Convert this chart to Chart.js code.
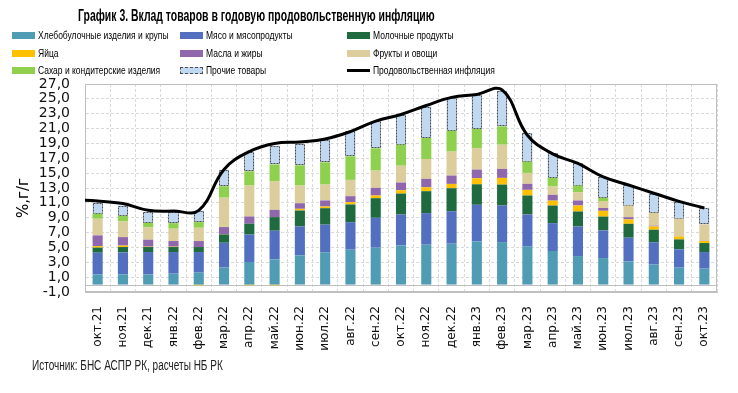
<!DOCTYPE html>
<html><head><meta charset="utf-8">
<script src="https://cdn.jsdelivr.net/npm/chart.js@4.4.0/dist/chart.umd.min.js"></script>
<style>
html,body{margin:0;padding:0;background:#fff;}
#wrap{position:relative;width:738px;height:393px;overflow:hidden;background:#fff;}
#c{position:absolute;left:0;top:0;}
.t{position:absolute;white-space:nowrap;color:#000;}
.fit{transform-origin:0 0;}
#title{left:78px;top:8px;font:bold 16px/16px "Liberation Sans",Arial,sans-serif;}
#src{left:32px;top:358px;font:14px/14px "Liberation Sans",Arial,sans-serif;color:#222;}
#ytitle{left:22.5px;top:198px;font:15px/15px "DejaVu Sans",sans-serif;transform:translate(-50%,-50%) rotate(-90deg);}
.lgt{position:absolute;white-space:nowrap;font:11px/11px "Liberation Sans",Arial,sans-serif;color:#000;transform-origin:0 0;}
.sw{position:absolute;box-sizing:border-box;}
</style></head>
<body>
<div id="wrap">
<canvas id="c" width="738" height="393"></canvas>
<div id="title" class="t fit">График 3. Вклад товаров в годовую продовольственную инфляцию</div>
<div id="ytitle" class="t">%,г/г</div>
<div id="src" class="t fit">Источник: БНС АСПР РК, расчеты НБ РК</div>
</div>
<script>
const categories = ['окт.21','ноя.21','дек.21','янв.22','фев.22','мар.22','апр.22','май.22','июн.22','июл.22','авг.22','сен.22','окт.22','ноя.22','дек.22','янв.23','фев.23','мар.23','апр.23','май.23','июн.23','июл.23','авг.23','сен.23','окт.23'];

const bread  = [1.38,1.38,1.38,1.47,1.61,2.30,3.04,3.40,3.93,4.35,4.70,4.97,5.28,5.37,5.50,5.81,5.72,5.10,4.52,3.84,3.57,3.13,2.70,2.28,2.15];
const meat   = [2.91,2.95,3.00,2.91,2.77,3.33,3.69,3.85,3.90,3.72,3.70,4.02,4.15,4.25,4.38,4.93,4.92,4.34,3.75,3.99,3.72,3.18,3.00,2.46,2.23];
const dairy  = [0.68,0.72,0.67,0.67,0.67,1.12,1.46,1.83,2.14,2.21,2.38,2.64,2.82,2.95,3.09,2.76,2.82,2.55,2.37,2.01,1.86,1.87,1.68,1.34,1.21];
const eggs   = [0.21,0.20,0.05,0.05,-0.10,0.02,-0.10,-0.10,0.23,0.23,0.31,0.36,0.45,0.53,0.58,0.81,0.90,0.76,0.66,0.80,0.78,0.59,0.45,0.40,0.27];
const oils   = [1.44,1.14,0.94,0.76,0.81,0.97,0.98,0.98,0.75,0.81,0.81,1.03,1.03,1.13,1.12,1.17,1.21,0.81,0.78,0.68,0.38,0.30,0.10,0.02,0.02];
const fruits = [2.24,2.11,1.65,1.66,1.79,3.96,4.16,3.87,2.38,2.14,2.19,2.32,2.27,2.67,3.23,2.91,3.26,1.47,1.12,1.11,0.94,1.57,1.73,2.38,2.22];
const sugar  = [0.67,0.75,0.61,0.75,0.76,1.54,1.92,2.24,2.72,3.00,3.18,3.00,2.83,2.83,2.80,2.55,2.47,1.52,1.16,0.90,0.43,0.00,0.00,0.00,0.00];
const other  = [1.47,1.39,1.45,1.48,1.56,2.22,2.55,2.48,2.90,2.96,3.35,3.62,3.97,4.24,4.40,4.56,4.78,3.80,3.34,3.04,2.82,2.75,2.59,2.23,2.24];

// food inflation: the line also starts from the previous month (сен.21), clipped at the plot edge
const lineLabels = ['сен.21'].concat(categories);
const foodInflation = [11.4,11.25,10.9,10.0,9.9,10.0,15.5,17.9,19.0,19.2,19.6,20.6,22.0,22.9,24.1,25.2,25.6,26.2,20.1,17.6,16.3,14.5,13.4,12.3,11.2,10.3];

const yTicksMin = -1, yTicksMax = 27, yStep = 2;

const seriesNames = ['Хлебобулочные изделия и крупы','Мясо и мясопродукты','Молочные продукты','Яйца','Масла и жиры','Фрукты и овощи','Сахар и кондитерские изделия','Прочие товары'];
const seriesData = [bread, meat, dairy, eggs, oils, fruits, sugar, other];
const seriesColors = ['#519CB5','#5370C0','#1F6A3E','#FFC000','#8E67AC','#DCCD9C','#8FD04F','#C0D9F0'];
const lineName = 'Продовольственная инфляция';

const datasets = seriesData.map((d,i)=>({
  type:'bar', label:seriesNames[i], data:d, backgroundColor:seriesColors[i], xAxisID:'x', yAxisID:'y',
  borderWidth:0, stack:'s', order:1, grouped:false, categoryPercentage:1.0, barPercentage:0.4
}));
const lineOffset = lineLabels.length - categories.length;
datasets.push({type:'line', label:lineName, xAxisID:'xl', yAxisID:'y',
  data:foodInflation.map((v,i)=>({x:i-lineOffset, y:v})),
  borderColor:'#000', borderWidth:3, pointRadius:0, tension:0.4, fill:false, order:0});

const OTHER_IDX = 7;
const outlinePlugin = {
  id:'outline',
  afterDatasetDraw(chart, args){
    if(args.index !== OTHER_IDX) return;
    const ctx = chart.ctx;
    ctx.save();
    ctx.strokeStyle = '#4d4d4d'; ctx.lineWidth = 1; ctx.setLineDash([2,1]);
    args.meta.data.forEach(el=>{
      const p = el.getProps(['x','y','base','width'], true);
      const l = Math.round(p.x - p.width/2) + 0.5, r = Math.round(p.x + p.width/2) - 0.5;
      const t = Math.round(Math.min(p.y,p.base)) + 0.5, b = Math.round(Math.max(p.y,p.base)) - 0.5;
      ctx.strokeRect(l, t, r-l, b-t);
    });
    ctx.restore();
  }
};
const framePlugin = {
  id:'frame',
  beforeDatasetsDraw(chart){
    const {ctx, chartArea:a, scales:{y}} = chart;
    ctx.save();
    ctx.strokeStyle = '#bfbfbf'; ctx.lineWidth = 1; ctx.setLineDash([]);
    ctx.strokeRect(Math.round(a.left)+0.5, Math.round(a.top)+0.5, Math.round(a.right-a.left)-1, Math.round(a.bottom-a.top)-1);
    const y0 = Math.round(y.getPixelForValue(0)) + 0.5;
    ctx.beginPath(); ctx.moveTo(a.left, y0); ctx.lineTo(a.right, y0); ctx.stroke();
    ctx.restore();
  }
};

const xlMin = -0.5, xlMax = categories.length - 0.5;

new Chart(document.getElementById('c'), {
  type:'bar',
  data:{labels:categories, datasets},
  options:{
    responsive:false, animation:false, devicePixelRatio:1,
    layout:{padding:{top:84,left:0,right:21,bottom:0}},
    plugins:{legend:{display:false}, tooltip:{enabled:false}, title:{display:false}},
    scales:{
      x:{type:'category', stacked:true, offset:true,
         grid:{color:'#d9d9d9', drawTicks:false, offset:true},
         border:{display:true, color:'#bfbfbf', dash:[3,2]},
         ticks:{autoSkip:false, maxRotation:90, minRotation:90, padding:14, color:'#111', font:{family:'DejaVu Sans', size:12}},
         afterFit(s){ s.height = 101; }},
      y:{type:'linear', stacked:true, min:yTicksMin, max:yTicksMax,
         ticks:{stepSize:yStep, autoSkip:false, padding:15, color:'#111', font:{family:'DejaVu Sans', size:14},
                callback:v=>Number(v).toFixed(1).replace('.',',')},
         grid:{color:'#d9d9d9', drawTicks:false},
         border:{display:true, color:'#bfbfbf', dash:[3,2]},
         afterFit(s){ s.width = 85; }},
      xl:{type:'linear', axis:'x', position:'bottom', display:false, offset:false, bounds:'data',
          min:xlMin, max:xlMax,
          afterDataLimits(s){ s.min = xlMin; s.max = xlMax; },
          afterBuildTicks(s){ s.min = xlMin; s.max = xlMax; }}
    }
  },
  plugins:[framePlugin, outlinePlugin]
});

function fitWidth(el, target){
  const w = el.scrollWidth;
  if(w>0) el.style.transform = 'scaleX(' + (target/w) + ')';
}
fitWidth(document.getElementById('title'), 357);
fitWidth(document.getElementById('src'), 191);

// HTML legend (3 columns x 3 rows)
const wrap = document.getElementById('wrap');
const colX = [12,180,347];
const rowBase = [39.3,57.3,74];
const legendItems = seriesNames.map((n,i)=>({name:n, color:seriesColors[i], kind: i===OTHER_IDX?'dash':'box'}));
legendItems.push({name:lineName, color:'#000', kind:'line'});
const texts = [];
legendItems.forEach((it,i)=>{
  const c = i%3, r = Math.floor(i/3);
  const sw = document.createElement('div'); sw.className='sw';
  sw.style.left = colX[c]+'px'; sw.style.width='23px';
  if(it.kind==='line'){ sw.style.top=(rowBase[r]-5)+'px'; sw.style.height='3px'; sw.style.background='#000'; }
  else { sw.style.top=(rowBase[r]-7)+'px'; sw.style.height='7px'; sw.style.background=it.color;
         if(it.kind==='dash') sw.style.border='1px dashed #4d4d4d'; }
  wrap.appendChild(sw);
  const tx = document.createElement('div'); tx.className='lgt';
  tx.style.left=(colX[c]+26)+'px'; tx.style.top=(rowBase[r]-9.3)+'px'; tx.textContent=it.name;
  wrap.appendChild(tx);
  texts.push(tx);
});
const k = 130.6 / texts[0].scrollWidth;
texts.forEach(t=>{ t.style.transform='scaleX('+k+')'; });
</script>
</body></html>
